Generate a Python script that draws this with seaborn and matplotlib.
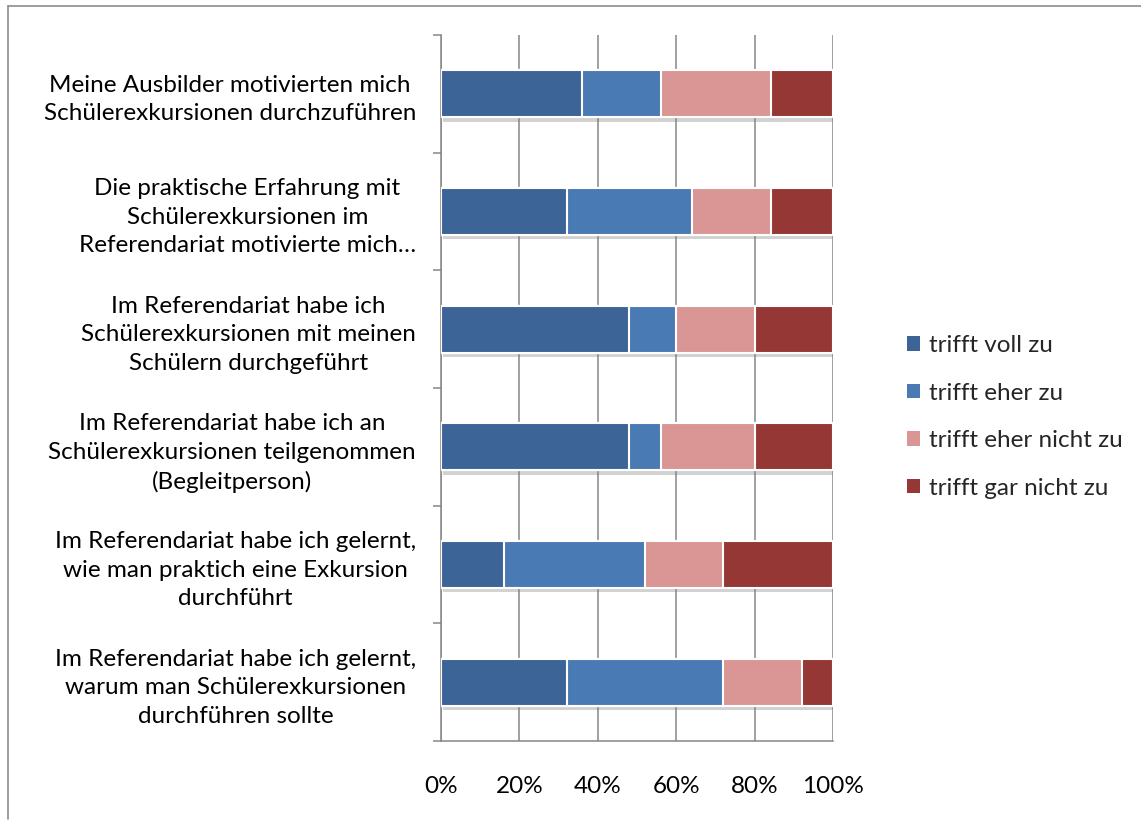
import numpy as np
import matplotlib
matplotlib.use("Agg")
import matplotlib.pyplot as plt
import seaborn as sns
from matplotlib.patches import Patch
from matplotlib.lines import Line2D
from matplotlib import patheffects as pe

# Survey statements (top to bottom) and answer categories
statements = [
    "Meine Ausbilder motivierten mich\nSchülerexkursionen durchzuführen",
    "Die praktische Erfahrung mit\nSchülerexkursionen im\nReferendariat motivierte mich…",
    "Im Referendariat habe ich\nSchülerexkursionen mit meinen\nSchülern durchgeführt",
    "Im Referendariat habe ich an\nSchülerexkursionen teilgenommen\n(Begleitperson)",
    "Im Referendariat habe ich gelernt,\nwie man praktich eine Exkursion\ndurchführt",
    "Im Referendariat habe ich gelernt,\nwarum man Schülerexkursionen\ndurchführen sollte",
]
answers = ["trifft voll zu", "trifft eher zu", "trifft eher nicht zu", "trifft gar nicht zu"]

# Share of answers in percent
voll_zu = [36, 32, 48, 48, 16, 32]
eher_zu = [20, 32, 12, 8, 36, 40]
eher_nicht_zu = [28, 20, 20, 24, 20, 20]
gar_nicht_zu = [16, 16, 20, 20, 28, 8]

x_ticks = [0, 20, 40, 60, 80, 100]
x_tick_labels = ["0%", "20%", "40%", "60%", "80%", "100%"]

colors = ["#3c6496", "#4a7ab3", "#d99694", "#953735"]
grid_gray = "#868686"

sns.set_style("white")
plt.rcParams["font.family"] = ["Lato", "DejaVu Sans"]
FS = 17.5

W, H = 1141, 823
fig = plt.figure(figsize=(W / 100, H / 100), dpi=100)
ax = fig.add_axes([441 / W, 1 - 741 / H, (833.3 - 441) / W, (741 - 35) / H])

series = [voll_zu, eher_zu, eher_nicht_zu, gar_nicht_zu]
cum = np.cumsum(np.array(series, dtype=float), axis=0)

# Stacked bars: draw cumulative totals from the widest to the narrowest
for i in range(len(series) - 1, -1, -1):
    n_before = len(ax.patches)
    sns.barplot(x=cum[i], y=statements, orient="h", color=colors[i],
                saturation=1, width=0.4, edgecolor="white", linewidth=1.5,
                ax=ax, zorder=3)
    if i == len(series) - 1:
        for p in ax.patches[n_before:]:
            p.set_path_effects([
                pe.SimplePatchShadow(offset=(1.5, -3), shadow_rgbFace="#808080", alpha=0.35),
                pe.Normal(),
            ])

ax.set_xlabel("")
ax.set_ylabel("")
ax.set_xlim(0, 100)
ax.set_ylim(len(statements) - 0.5, -0.5)

ax.set_xticks(x_ticks)
ax.set_xticklabels(x_tick_labels, fontsize=FS, color="black")
ax.tick_params(axis="x", direction="out", length=6, width=1.1, color=grid_gray, pad=19.5)

ax.set_yticks(range(len(statements)))
ax.set_yticklabels(statements, fontsize=FS, color="black", ha="right",
                   multialignment="center", linespacing=1.45)
ax.set_yticks(np.arange(-0.5, len(statements), 1.0), minor=True)
ax.tick_params(axis="y", which="major", length=0, pad=18)
ax.tick_params(axis="y", which="minor", direction="out", length=6, width=1.1,
               color=grid_gray, left=True)

ax.set_axisbelow(True)
ax.xaxis.grid(True, color=grid_gray, linewidth=1.1)
ax.yaxis.grid(False)
for side in ["top", "right"]:
    ax.spines[side].set_visible(False)
for side in ["left", "bottom"]:
    ax.spines[side].set_visible(True)
    ax.spines[side].set_color(grid_gray)
    ax.spines[side].set_linewidth(1.1)

handles = [Patch(facecolor=c, edgecolor="none") for c in colors]
fig.legend(handles, answers, loc="center left",
           bbox_to_anchor=(895 / W, 1 - 417 / H), frameon=False,
           fontsize=FS, handlelength=0.54, handleheight=0.54,
           handletextpad=0.36, labelspacing=1.09, borderpad=0)

# Chart frame (top and left edges)
frame_kw = dict(color="#8c8c8c", linewidth=1.2, transform=fig.transFigure)
fig.add_artist(Line2D([8 / W, 1.0], [1 - 6 / H, 1 - 6 / H], **frame_kw))
fig.add_artist(Line2D([8 / W, 8 / W], [1 - 6 / H, 1 - 819 / H], **frame_kw))

fig.savefig("out.png", dpi=100)
